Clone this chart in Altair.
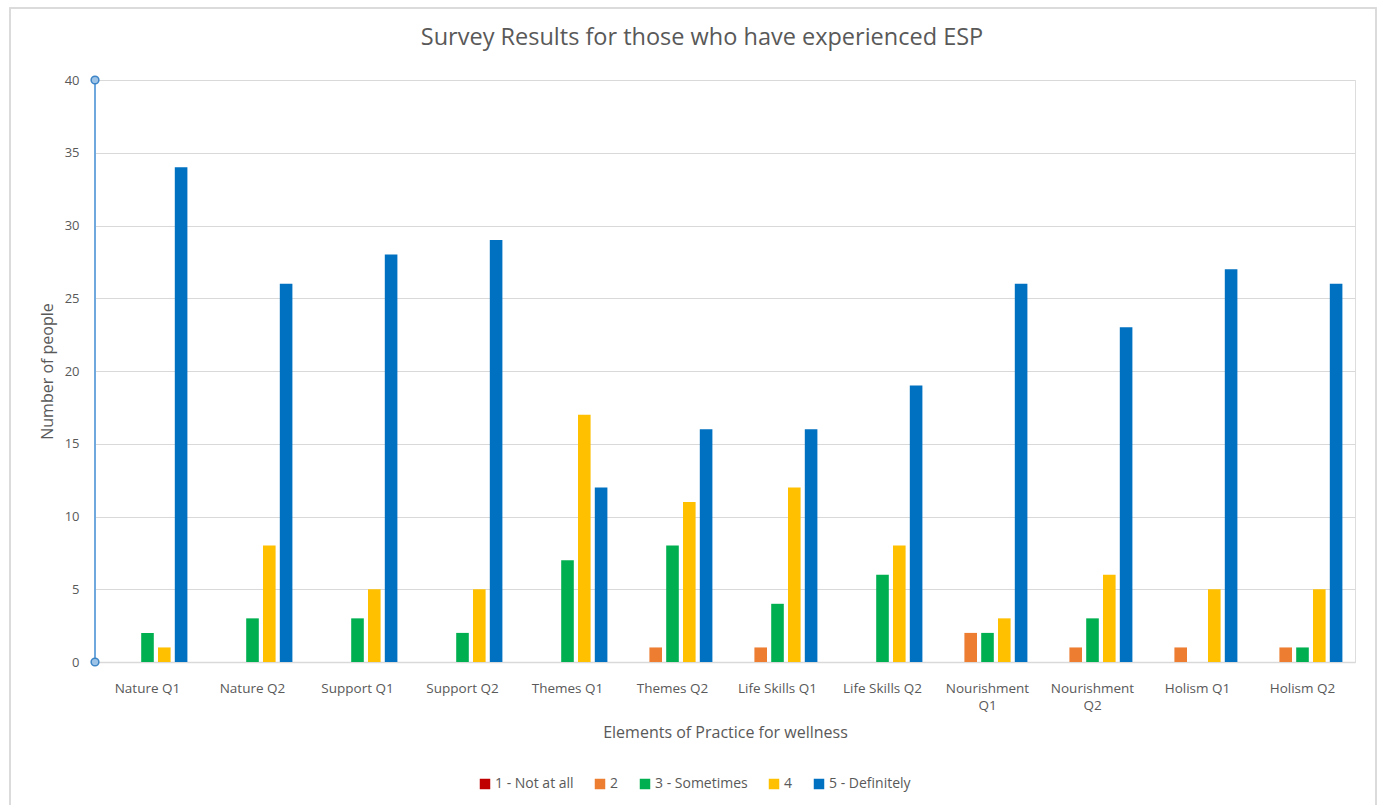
import altair as alt
import pandas as pd

categories = ["Nature Q1", "Nature Q2", "Support Q1", "Support Q2", "Themes Q1", "Themes Q2",
              "Life Skills Q1", "Life Skills Q2", "Nourishment Q1", "Nourishment Q2",
              "Holism Q1", "Holism Q2"]
series = ["1 - Not at all", "2", "3 - Sometimes", "4", "5 - Definitely"]
colors = ["#C00000", "#ED7D31", "#00B050", "#FFC000", "#0070C0"]

s1 = [0, 0, 0, 0, 0, 0, 0, 0, 0, 0, 0, 0]
s2 = [0, 0, 0, 0, 0, 1, 1, 0, 2, 1, 1, 1]
s3 = [2, 3, 3, 2, 7, 8, 4, 6, 2, 3, 0, 1]
s4 = [1, 8, 5, 5, 17, 11, 12, 8, 3, 6, 5, 5]
s5 = [34, 26, 28, 29, 12, 16, 16, 19, 26, 23, 27, 26]

rows = []
for name, vals in zip(series, [s1, s2, s3, s4, s5]):
    for c, v in zip(categories, vals):
        rows.append({"Element": c, "Rating": name, "Count": v})
df = pd.DataFrame(rows)

FONT = "Open Sans"
GREY = "#595959"

bars = alt.Chart(df).mark_bar().encode(
    x=alt.X("Element:N", sort=categories,
            scale=alt.Scale(paddingInner=0.2, paddingOuter=0.1),
            axis=alt.Axis(title="Elements of Practice for wellness", labelAngle=0,
                          labelExpr="indexof(datum.label, 'Nourishment') == 0 ? split(datum.label, ' ') : datum.label",
                          labelFont=FONT, labelFontSize=13.5, labelColor=GREY, labelLineHeight=17,
                          labelBaseline="middle",
                          titleFont=FONT, titleFontSize=16, titleColor=GREY, titleFontWeight="normal",
                          titlePadding=13, labelPadding=26,
                          ticks=False, domainColor="#d9d9d9", domainWidth=1.5)),
    xOffset=alt.XOffset("Rating:N", sort=series,
                        scale=alt.Scale(paddingInner=0.25, paddingOuter=0.125)),
    y=alt.Y("Count:Q", scale=alt.Scale(domain=[0, 40]),
            axis=alt.Axis(title="Number of people", values=list(range(0, 41, 5)),
                          labelFont=FONT, labelFontSize=13, labelColor=GREY,
                          titleFont=FONT, titleFontSize=16, titleColor=GREY, titleFontWeight="normal",
                          titlePadding=9, labelPadding=16,
                          ticks=False, domain=False, gridColor="#d9d9d9", gridWidth=1)),
    color=alt.Color("Rating:N", sort=series,
                    scale=alt.Scale(domain=series, range=colors),
                    legend=alt.Legend(title=None, orient="none", direction="horizontal",
                                      legendX=383, legendY=697, symbolType="square",
                                      symbolSize=110, symbolStrokeWidth=0,
                                      labelFont=FONT, labelFontSize=14, labelColor=GREY,
                                      columnPadding=19, symbolOffset=0, labelOffset=3)),
)

sel_df = pd.DataFrame({"v": [0, 40]})
sel_line = alt.Chart(sel_df).mark_rule(color="#6fa8dc", strokeWidth=2).encode(
    x=alt.value(0), y=alt.Y("min(v):Q"), y2=alt.Y2("max(v):Q"))
sel_pts = alt.Chart(sel_df).mark_point(shape="circle", filled=True, fill="#9dc3e6",
                                       stroke="#3d85c6", strokeWidth=1.5, size=60, opacity=1).encode(
    x=alt.value(0), y=alt.Y("v:Q"))

frame = alt.Chart(sel_df).mark_rect(fill=None, stroke="#d9d9d9", strokeWidth=1.5).encode(
    x=alt.value(-85), x2=alt.value(1281), y=alt.value(-72), y2=alt.value(740))

chart = alt.layer(frame, bars, sel_line, sel_pts).properties(
    width=1260, height=582,
    title=alt.TitleParams("Survey Results for those who have experienced ESP",
                          font=FONT, fontSize=23.5, fontWeight="normal", color=GREY,
                          anchor="middle", offset=-54, dx=-23, baseline="middle"),
    padding={"left": 95, "top": 80, "right": 29, "bottom": 143},
    autosize=alt.AutoSizeParams(type="none"),
).configure_view(stroke=None).configure(background="white")

chart.save("out.html", embed_options={"renderer": "svg", "actions": False})
